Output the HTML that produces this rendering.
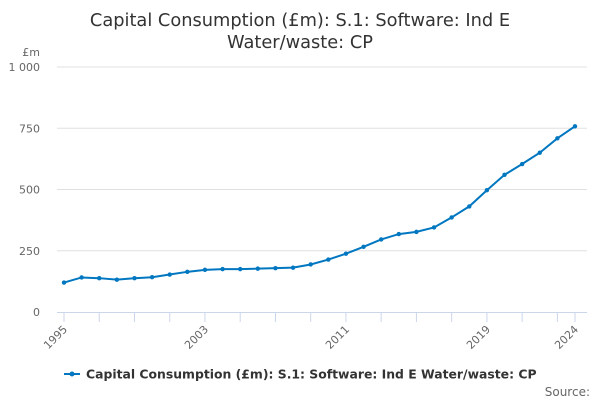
<!DOCTYPE html>
<html><head><meta charset="utf-8"><style>
body{margin:0;background:#fff;font-family:"DejaVu Sans","Liberation Sans",sans-serif;}
</style></head><body>
<svg width="600" height="400" xmlns="http://www.w3.org/2000/svg" id="chart">
<text x="300" y="26" text-anchor="middle" font-size="17.8" fill="#333">Capital Consumption (£m): S.1: Software: Ind E</text>
<text x="300" y="48" text-anchor="middle" font-size="17.8" fill="#333">Water/waste: CP</text>
<text x="40" y="56" text-anchor="end" font-size="11" fill="#666">£m</text>
<g id="grid"></g><g id="xaxis"></g><g id="series"></g>
<g>
<line x1="64" y1="374" x2="80" y2="374" stroke="#0077c0" stroke-width="2"/>
<circle cx="72" cy="374" r="2.5" fill="#0077c0"/>
<text x="86" y="378.5" font-size="12.4" font-weight="bold" fill="#333">Capital Consumption (£m): S.1: Software: Ind E Water/waste: CP</text>
</g>
<text x="590" y="396" text-anchor="end" font-size="12" fill="#666">Source:</text>
</svg>
<script>
const years=[1995,1996,1997,1998,1999,2000,2001,2002,2003,2004,2005,2006,2007,2008,2009,2010,2011,2012,2013,2014,2015,2016,2017,2018,2019,2020,2021,2022,2023,2024];
const values=[120,141,138,132,138,142,153,164,172,175,175,177,179,181,194,214,238,266,296,318,327,345,386,431,497,560,604,650,709,758];
const yTicks=[0,250,500,750,1000];
const yTickLabels=["0","250","500","750","1 000"];
const xLabelYears=[1995,2003,2011,2019,2024];
const NS="http://www.w3.org/2000/svg";
const x=y=>64+(y-1995)*(575-64)/29;
const yS=v=>312-v*245/1000;
function mk(t,a,p){const e=document.createElementNS(NS,t);for(const k in a)e.setAttribute(k,a[k]);p.appendChild(e);return e;}
const grid=document.getElementById('grid');
yTicks.forEach((t,i)=>{
 if(t>0){const l=mk('line',{x1:57,x2:587,y1:yS(t),y2:yS(t),stroke:'#e0e0e0','stroke-width':1},grid);
 
 }
 const tx=mk('text',{x:40,y:yS(t)+4,'text-anchor':'end','font-size':11,fill:'#666'},grid);
 tx.textContent=yTickLabels[i];
 
 
});
const xa=document.getElementById('xaxis');
const al=mk('line',{x1:57,x2:587,y1:312.5,y2:312.5,stroke:'#ccd6eb','stroke-width':1},xa);


const tickYears=[];for(let y=1995;y<=2023;y+=2)tickYears.push(y);tickYears.push(2024);
tickYears.forEach(y=>{const t=mk('line',{x1:x(y),x2:x(y),y1:312,y2:322,stroke:'#ccd6eb'},xa);
 
 });
xLabelYears.forEach(y=>{const t=mk('text',{x:x(y)+4,y:330,'text-anchor':'end','font-size':11,fill:'#666',transform:`rotate(-45 ${x(y)+4} 330)`},xa);
 t.textContent=y;
 
 });
const s=document.getElementById('series');
const p=mk('polyline',{points:years.map((y,i)=>x(y)+','+yS(values[i])).join(' '),fill:'none',stroke:'#0077c0','stroke-width':2},s);


years.forEach((y,i)=>{const c=mk('circle',{cx:x(y),cy:yS(values[i]),r:2.2,fill:'#0077c0'},s);
 
 });
</script>
</body></html>
